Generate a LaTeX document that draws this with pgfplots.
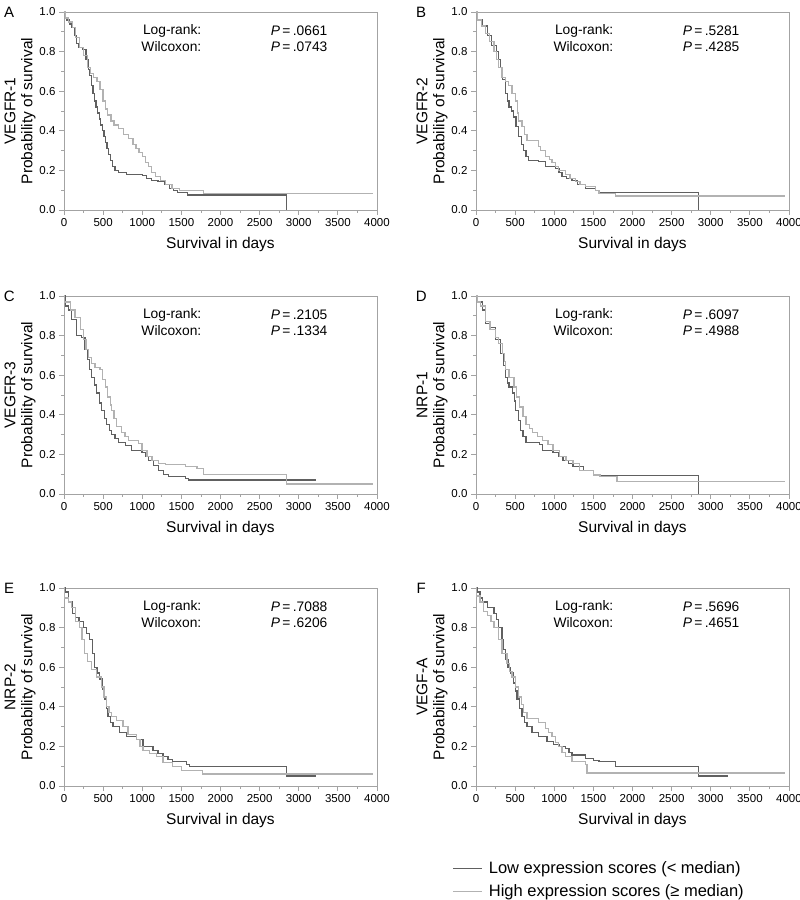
\documentclass[border=0pt]{standalone}
\usepackage{pgfplots}
\pgfplotsset{compat=1.18}
\usepackage{fontspec}
\setmainfont{Liberation Sans}

\definecolor{lowc}{HTML}{606060}
\definecolor{highc}{HTML}{B2B2B2}
\definecolor{axc}{HTML}{A3A3A3}

\newcommand{\ann}{\fontsize{13.8}{16}\selectfont}
\newcommand{\stats}[2]{%
  \node[anchor=east, font=\ann] at (axis cs:1800,0.905) {Log-rank:};
  \node[anchor=east, font=\ann] at (axis cs:1800,0.825) {Wilcoxon:};
  \node[anchor=west, font=\ann] at (axis cs:2600,0.905) {\textit{P}\,=\,#1};
  \node[anchor=west, font=\ann] at (axis cs:2600,0.825) {\textit{P}\,=\,#2};
}
\newcommand{\panel}[1]{\node[font=\fontsize{15}{17}\selectfont] at (rel axis cs:-0.175,1.0) {#1};}

\pgfplotsset{
  km/.style={
    scale only axis, width=313pt, height=198pt,
    xmin=0, xmax=4000, ymin=0, ymax=1,
    xtick={0,500,1000,1500,2000,2500,3000,3500,4000},
    ytick={0,0.2,0.4,0.6,0.8,1},
    minor x tick num=1, minor y tick num=1,
    axis line style={axc, line width=0.8pt},
    tick style={axc, line width=0.8pt},
    tick align=outside, xtick pos=left, ytick pos=left,
    major tick length=5pt, minor tick length=3pt,
    ticklabel style={font=\fontsize{11.5}{13}\selectfont},
    /pgf/number format/assume math mode=true,
    xticklabel style={/pgf/number format/1000 sep={}},
    yticklabel style={/pgf/number format/.cd, fixed, fixed zerofill, precision=1},
    xlabel={Survival in days},
    label style={font=\fontsize{15.5}{17}\selectfont},
    xlabel style={yshift=-4pt},
    ylabel style={align=center, yshift=-3pt},
    clip=false,
    every axis plot/.append style={const plot, no marks, line width=1.3pt},
  },
  low/.style={lowc},
  high/.style={highc},
}

\begin{document}
\begin{tikzpicture}
\useasboundingbox (0,0) rectangle (800pt,900pt);

% A
\begin{axis}[km, at={(64pt,690pt)}, anchor=south west, ylabel={VEGFR-1\\Probability of survival}]
\addplot[low] coordinates {(0,1.0) (15,0.97) (40,0.96) (70,0.94) (100,0.92) (130,0.88) (160,0.84) (190,0.82) (240,0.81) (280,0.76) (310,0.71) (330,0.68) (350,0.63) (370,0.59) (390,0.55) (410,0.52) (430,0.49) (450,0.46) (470,0.43) (490,0.40) (510,0.37) (530,0.34) (550,0.31) (570,0.28) (590,0.25) (620,0.22) (650,0.20) (700,0.19) (800,0.18) (1000,0.175) (1050,0.16) (1120,0.15) (1200,0.145) (1280,0.13) (1350,0.11) (1400,0.10) (1450,0.09) (1580,0.076) (2840,0.0)};
\addplot[high] coordinates {(0,1.0) (20,0.97) (60,0.95) (110,0.92) (150,0.87) (200,0.82) (250,0.78) (300,0.72) (340,0.69) (380,0.67) (420,0.65) (460,0.61) (500,0.55) (530,0.51) (560,0.48) (600,0.45) (640,0.43) (700,0.41) (760,0.38) (820,0.36) (880,0.33) (920,0.31) (960,0.29) (1000,0.27) (1040,0.24) (1080,0.22) (1120,0.19) (1170,0.17) (1230,0.15) (1300,0.13) (1380,0.11) (1480,0.10) (1780,0.085) (3945,0.085)};
\stats{.0661}{.0743}
\panel{A}
\end{axis}

% B
\begin{axis}[km, at={(476pt,690pt)}, anchor=south west, ylabel={VEGFR-2\\Probability of survival}]
\addplot[low] coordinates {(0,1.0) (20,0.96) (80,0.93) (150,0.88) (200,0.83) (260,0.80) (290,0.76) (311,0.72) (340,0.66) (375,0.59) (400,0.55) (420,0.52) (450,0.50) (482,0.47) (510,0.42) (546,0.37) (580,0.33) (610,0.30) (640,0.27) (674,0.25) (800,0.245) (887,0.22) (1015,0.21) (1060,0.19) (1100,0.17) (1160,0.16) (1228,0.15) (1300,0.13) (1400,0.11) (1527,0.10) (1570,0.087) (2840,0.0)};
\addplot[high] coordinates {(0,1.0) (20,0.96) (70,0.93) (120,0.89) (170,0.85) (230,0.80) (260,0.76) (290,0.72) (333,0.67) (380,0.65) (418,0.63) (460,0.59) (503,0.55) (530,0.49) (546,0.45) (588,0.42) (620,0.38) (652,0.35) (760,0.35) (800,0.32) (823,0.30) (887,0.27) (940,0.255) (972,0.24) (1020,0.22) (1058,0.20) (1143,0.18) (1200,0.16) (1270,0.145) (1330,0.13) (1400,0.12) (1527,0.10) (1570,0.085) (1782,0.07) (3945,0.07)};
\stats{.5281}{.4285}
\panel{B}
\end{axis}

% C
\begin{axis}[km, at={(64pt,406pt)}, anchor=south west, ylabel={VEGFR-3\\Probability of survival}]
\addplot[low] coordinates {(0,1.0) (20,0.95) (60,0.93) (100,0.88) (160,0.80) (220,0.79) (269,0.73) (300,0.68) (330,0.63) (355,0.59) (390,0.55) (419,0.51) (450,0.46) (483,0.42) (515,0.38) (547,0.35) (580,0.32) (611,0.30) (650,0.28) (697,0.26) (782,0.245) (867,0.22) (996,0.21) (1040,0.19) (1081,0.17) (1140,0.145) (1209,0.12) (1270,0.10) (1338,0.088) (1551,0.08) (1594,0.07) (3220,0.07)};
\addplot[high] coordinates {(0,1.0) (10,0.97) (80,0.93) (140,0.89) (210,0.83) (250,0.78) (280,0.73) (312,0.69) (350,0.66) (397,0.64) (461,0.63) (490,0.58) (526,0.54) (560,0.49) (590,0.45) (611,0.42) (640,0.38) (675,0.34) (739,0.31) (780,0.29) (825,0.27) (953,0.255) (996,0.22) (1060,0.19) (1124,0.17) (1209,0.155) (1300,0.15) (1551,0.14) (1700,0.13) (1780,0.10) (2840,0.05) (3945,0.05)};
\stats{.2105}{.1334}
\panel{C}
\end{axis}

% D
\begin{axis}[km, at={(476pt,406pt)}, anchor=south west, ylabel={NRP-1\\Probability of survival}]
\addplot[low] coordinates {(0,1.0) (20,0.97) (80,0.93) (120,0.86) (170,0.84) (250,0.78) (315,0.71) (350,0.65) (380,0.59) (400,0.56) (422,0.54) (465,0.51) (490,0.47) (508,0.42) (540,0.37) (573,0.32) (600,0.29) (638,0.26) (810,0.25) (853,0.22) (983,0.21) (1050,0.19) (1112,0.17) (1180,0.155) (1241,0.14) (1370,0.12) (1500,0.10) (1586,0.095) (2840,0.0)};
\addplot[high] coordinates {(0,1.0) (20,0.97) (60,0.95) (120,0.87) (180,0.83) (250,0.79) (290,0.76) (336,0.71) (360,0.67) (380,0.63) (422,0.59) (487,0.54) (520,0.49) (552,0.44) (600,0.39) (638,0.35) (680,0.33) (724,0.31) (790,0.29) (853,0.27) (920,0.25) (983,0.22) (1069,0.19) (1150,0.17) (1241,0.155) (1327,0.12) (1500,0.096) (1586,0.088) (1800,0.062) (3945,0.062)};
\stats{.6097}{.4988}
\panel{D}
\end{axis}

% E
\begin{axis}[km, at={(64pt,114pt)}, anchor=south west, ylabel={NRP-2\\Probability of survival}]
\addplot[low] coordinates {(0,1.0) (20,0.98) (60,0.93) (110,0.87) (150,0.85) (190,0.83) (250,0.80) (290,0.77) (328,0.74) (360,0.67) (391,0.60) (420,0.57) (455,0.54) (490,0.49) (519,0.44) (540,0.39) (562,0.35) (590,0.32) (625,0.30) (710,0.27) (796,0.25) (923,0.235) (1008,0.20) (1136,0.18) (1200,0.165) (1264,0.15) (1330,0.135) (1391,0.125) (1562,0.11) (1604,0.098) (2840,0.05) (3220,0.05)};
\addplot[high] coordinates {(0,1.0) (10,0.95) (60,0.93) (100,0.90) (150,0.83) (200,0.80) (230,0.74) (264,0.67) (300,0.63) (349,0.59) (413,0.55) (477,0.50) (510,0.45) (540,0.40) (575,0.37) (604,0.35) (668,0.33) (753,0.30) (817,0.26) (923,0.235) (970,0.20) (1008,0.18) (1094,0.165) (1179,0.15) (1264,0.12) (1391,0.10) (1500,0.08) (1774,0.06) (3945,0.06)};
\stats{.7088}{.6206}
\panel{E}
\end{axis}

% F
\begin{axis}[km, at={(476pt,114pt)}, anchor=south west, ylabel={VEGF-A\\Probability of survival},
  legend style={at={(rel axis cs:-0.085,-0.36)}, anchor=north west, draw=none, fill=none,
    font=\fontsize{16.5}{18}\selectfont, row sep=6pt},
  legend cell align=left,
  legend image code/.code={\draw[#1, sharp plot] (0pt,0pt) -- (29pt,0pt); \path (33pt,0pt);}]
\addplot[low] coordinates {(0,1.0) (20,0.98) (50,0.95) (80,0.93) (150,0.90) (230,0.87) (260,0.84) (290,0.80) (333,0.74) (355,0.69) (375,0.64) (410,0.60) (439,0.57) (482,0.52) (505,0.48) (525,0.44) (555,0.39) (588,0.35) (620,0.32) (652,0.30) (716,0.27) (802,0.25) (908,0.225) (994,0.21) (1060,0.20) (1143,0.19) (1190,0.17) (1228,0.157) (1399,0.14) (1500,0.13) (1570,0.124) (1782,0.098) (2840,0.05) (3220,0.05)};
\addlegendentry{Low expression scores (< median)}
\addplot[high] coordinates {(0,1.0) (10,0.96) (50,0.93) (100,0.88) (150,0.86) (190,0.83) (230,0.80) (290,0.74) (333,0.67) (396,0.62) (430,0.58) (460,0.55) (503,0.50) (546,0.45) (580,0.41) (610,0.37) (652,0.34) (802,0.32) (887,0.29) (930,0.27) (972,0.25) (1015,0.22) (1058,0.20) (1100,0.17) (1143,0.15) (1228,0.125) (1399,0.11) (1420,0.065) (3945,0.065)};
\addlegendentry{High expression scores (≥ median)}
\stats{.5696}{.4651}
\panel{F}
\end{axis}
\end{tikzpicture}
\end{document}
